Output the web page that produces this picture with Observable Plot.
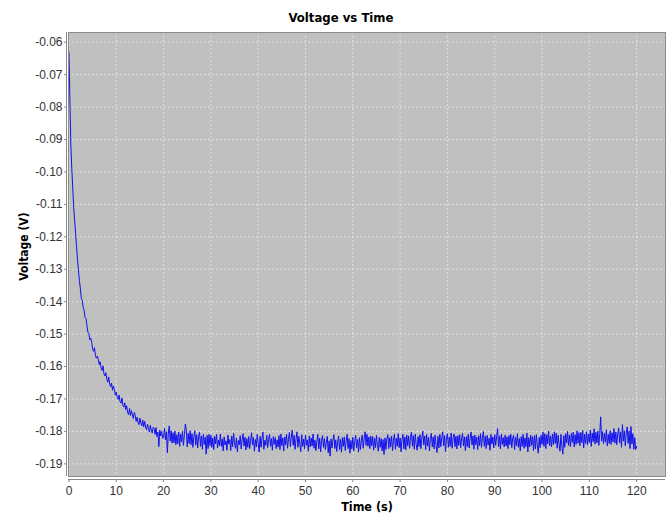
<!DOCTYPE html>
<html><head><meta charset="utf-8">
<script src="https://cdn.jsdelivr.net/npm/d3@7"></script>
<script src="https://cdn.jsdelivr.net/npm/@observablehq/plot@0.6"></script>
<style>
body{margin:0;background:#fff;}
#title{height:31px;width:666px;box-sizing:border-box;padding-top:4px;padding-left:16px;text-align:center;font-family:"DejaVu Sans Condensed","DejaVu Sans",sans-serif;font-stretch:condensed;font-weight:bold;font-size:13px;line-height:27px;color:#000;}
#chart svg{display:block;}
</style></head><body>
<div id="title"></div>
<div id="chart"></div>
<script>
const title = "Voltage vs Time";
const xLabel = "Time (s)";
const yLabel = "Voltage (V)";
const sampleStep = 0.2; // seconds between samples
const xTicks = [0,10,20,30,40,50,60,70,80,90,100,110,120];
const yTicks = [-0.19,-0.18,-0.17,-0.16,-0.15,-0.14,-0.13,-0.12,-0.11,-0.10,-0.09,-0.08,-0.07,-0.06];
const xDomain = [-0.1, 126.1];
const yDomain = [-0.1939, -0.0570];
// voltage readings in millivolts, one row per 2 s (10 samples)
const voltage_mV = [
-63,-78,-92,-99,-105,-111,-115,-119,-123,-127,
-130.2,-133.5,-135.8,-138.9,-139.6,-141.8,-142.7,-144.9,-145.2,-147.3,
-149.4,-149.8,-151.7,-151.2,-152.5,-154.6,-155.3,-154.2,-156.7,-157.4,
-156.8,-157.9,-159.4,-158.5,-160.6,-161.2,-159.8,-162.3,-162.9,-161.9,
-163.9,-164.8,-163.2,-165.4,-166.2,-165.1,-167.3,-166.0,-167.2,-168.8,
-167.9,-169.5,-170.1,-168.8,-170.9,-171.3,-169.7,-172.0,-172.5,-171.2,
-173.3,-172.1,-174.2,-174.8,-172.9,-175.1,-173.6,-174.9,-176.0,-174.1,
-175.0,-176.9,-175.6,-177.2,-177.9,-175.9,-177.4,-178.3,-176.5,-178.6,
-176.9,-178.7,-179.5,-177.8,-179.1,-180.2,-178.1,-179.6,-180.5,-178.7,
-179.1,-180.9,-178.8,-181.6,-180.2,-184.7,-179.6,-181.4,-180.0,-182.1,
-181.9,-179.0,-182.6,-180.1,-186.6,-180.5,-178.3,-183.0,-179.8,-183.6,
-180.4,-183.5,-179.9,-184.1,-181.0,-183.8,-180.2,-184.6,-180.8,-183.2,
-179.9,-184.3,-181.0,-177.7,-179.4,-184.8,-180.6,-183.7,-179.8,-184.1,
-180.7,-184.9,-181.5,-179.8,-184.2,-181.0,-185.1,-181.7,-180.2,-184.6,
-181.4,-185.5,-180.9,-184.0,-181.8,-187.0,-181.2,-185.3,-180.9,-184.4,
-181.2,-184.9,-182.0,-185.6,-181.5,-183.8,-180.9,-185.1,-182.7,-184.4,
-180.8,-184.6,-182.3,-186.0,-181.7,-184.2,-182.9,-185.8,-181.1,-183.9,
-182.5,-185.9,-181.4,-184.7,-180.6,-183.5,-185.2,-182.0,-186.3,-182.8,
-184.1,-181.3,-185.4,-182.6,-180.7,-184.5,-181.8,-185.7,-182.2,-184.9,
-181.6,-185.3,-182.8,-180.4,-184.2,-181.9,-186.1,-182.5,-184.8,-180.9,
-183.7,-186.4,-181.5,-184.9,-182.1,-180.2,-185.5,-182.7,-184.3,-181.2,
-185.0,-182.4,-180.9,-184.6,-182.2,-185.8,-181.6,-184.0,-181.9,-185.3,
-182.6,-184.8,-181.3,-185.6,-180.8,-184.4,-182.0,-186.0,-181.7,-184.1,
-180.9,-185.2,-182.5,-180.3,-184.7,-181.8,-179.6,-184.3,-181.2,-185.5,
-182.3,-180.1,-184.9,-181.5,-183.8,-186.2,-181.0,-184.6,-182.4,-185.4,
-181.1,-184.3,-182.6,-186.1,-181.4,-184.8,-182.0,-184.5,-180.8,-185.2,
-182.7,-185.9,-183.0,-180.9,-185.4,-182.1,-186.3,-182.8,-181.3,-184.9,
-182.2,-185.6,-183.4,-181.5,-186.6,-182.9,-187.6,-182.3,-185.1,-182.7,
-181.0,-185.3,-182.6,-186.2,-183.2,-181.4,-185.6,-182.5,-186.4,-181.9,
-184.6,-181.7,-185.9,-182.9,-180.9,-185.3,-182.2,-186.7,-182.8,-185.4,
-181.8,-186.0,-183.1,-181.2,-185.0,-182.5,-186.4,-181.9,-185.6,-182.7,
-181.1,-185.2,-182.2,-180.1,-184.3,-180.9,-184.6,-181.7,-185.3,-181.4,
-184.4,-181.6,-185.8,-182.1,-185.0,-181.2,-184.3,-186.1,-181.8,-184.9,
-182.2,-186.0,-182.5,-187.1,-182.0,-185.6,-182.3,-181.0,-185.3,-181.9,
-184.8,-181.4,-185.9,-182.7,-180.8,-185.5,-182.1,-184.6,-180.7,-185.0,
-182.0,-186.3,-182.4,-180.9,-185.4,-181.7,-185.7,-181.1,-184.4,-181.4,
-185.2,-181.9,-180.2,-184.6,-181.3,-185.5,-180.8,-184.0,-185.8,-181.6,
-184.7,-181.0,-185.3,-182.0,-179.9,-184.2,-181.4,-185.6,-180.9,-184.5,
-181.8,-186.0,-182.2,-180.6,-184.8,-181.7,-185.4,-181.1,-184.3,-186.5,
-181.5,-185.1,-180.9,-184.7,-182.0,-180.1,-184.4,-181.3,-186.2,-181.9,
-180.7,-184.9,-181.8,-184.6,-180.5,-185.2,-182.1,-180.8,-184.7,-181.5,
-185.4,-181.3,-184.3,-181.0,-185.0,-182.2,-180.6,-184.5,-181.7,-185.9,
-181.6,-184.7,-180.9,-185.1,-182.0,-180.2,-184.2,-181.4,-185.5,-181.1,
-184.1,-181.8,-185.6,-181.3,-184.4,-180.7,-184.9,-181.9,-180.0,-184.6,
-181.5,-185.3,-181.2,-184.2,-182.1,-185.8,-180.9,-183.9,-181.7,-185.1,
-181.0,-184.3,-181.6,-179.1,-184.7,-181.4,-185.4,-180.8,-184.0,-181.9,
-184.8,-181.1,-184.5,-181.7,-185.3,-181.3,-184.1,-180.9,-185.0,-182.0,
-181.2,-185.6,-181.8,-184.4,-180.7,-184.9,-182.2,-186.0,-181.6,-184.6,
-180.9,-185.2,-182.0,-184.7,-180.5,-186.3,-181.9,-184.8,-181.1,-184.3,
-181.6,-185.9,-181.3,-185.4,-181.0,-184.2,-186.7,-181.8,-185.0,-181.2,
-184.0,-180.2,-184.6,-180.7,-185.3,-181.0,-183.8,-179.9,-184.4,-181.4,
-184.8,-180.8,-184.1,-180.1,-183.7,-180.5,-185.2,-181.2,-183.9,-186.1,
-180.9,-184.5,-187.0,-181.3,-184.9,-180.7,-183.6,-180.0,-184.3,-181.1,
-184.7,-180.6,-183.4,-180.2,-184.8,-181.0,-184.0,-179.8,-183.6,-180.4,
-184.4,-180.3,-183.5,-179.7,-185.1,-180.9,-183.7,-180.1,-184.2,-180.8,
-183.4,-179.6,-184.6,-180.5,-183.2,-179.2,-183.9,-180.3,-183.5,-179.9,
-184.3,-180.7,-175.5,-183.0,-180.1,-183.8,-180.6,-183.3,-179.5,-184.5,
-180.9,-183.7,-179.8,-184.0,-180.4,-183.2,-179.1,-183.6,-180.2,-184.1,
-180.8,-178.9,-183.5,-180.1,-184.9,-177.9,-183.0,-179.8,-184.4,-180.5,
-178.6,-183.7,-179.9,-185.3,-178.5,-183.9,-180.7,-185.5,-181.9,-185.6,
-184.6
];
const data = voltage_mV.map((v, i) => ({t: Math.round(i * sampleStep * 10) / 10, v: v / 1000}));

document.getElementById("title").textContent = title;
const labelFont = '"DejaVu Sans Condensed","DejaVu Sans",sans-serif';
const plot = Plot.plot({
  width: 666, height: 485,
  marginLeft: 68, marginRight: 1, marginTop: 1, marginBottom: 40,
  style: {fontFamily: '"Liberation Sans", Arial, sans-serif', fontSize: "12px", color: "#444", background: "white", overflow: "visible"},
  x: {domain: xDomain},
  y: {domain: yDomain},
  marks: [
    Plot.frame({fill: "#c0c0c0"}),
    Plot.gridX(xTicks, {stroke: "white", strokeOpacity: 0.5, strokeDasharray: "2,2"}),
    Plot.gridY(yTicks, {stroke: "white", strokeOpacity: 0.5, strokeDasharray: "2,2"}),
    Plot.line(data, {x: "t", y: "v", stroke: "#1010f0", strokeWidth: 1}),
    Plot.frame({stroke: "#8a8a8a"}),
    Plot.ruleY([yDomain[0]], {dy: 3, stroke: "#8a8a8a"}),
    Plot.ruleX([xDomain[0]], {dx: -2, stroke: "#8a8a8a"}),
    Plot.axisX(xTicks, {dy: 3, tickSize: 3, tickPadding: 4, label: null, tickFormat: d => String(d), stroke: "#8a8a8a", fill: "#333"}),
    Plot.axisY(yTicks, {dx: -2, tickSize: 2, tickPadding: 2, label: null, tickFormat: d => d.toFixed(2), stroke: "#8a8a8a", fill: "#333"}),
    Plot.text([xLabel], {frameAnchor: "bottom", dy: 34, textAnchor: "middle", text: d => d, fontFamily: labelFont, fontWeight: "bold", fontSize: 12.5, fill: "#000"}),
    Plot.text([yLabel], {frameAnchor: "left", dx: -44, dy: -8, rotate: -90, textAnchor: "middle", text: d => d, fontFamily: labelFont, fontWeight: "bold", fontSize: 12, fill: "#000"})
  ]
});
document.getElementById("chart").appendChild(plot);
</script>
</body></html>
